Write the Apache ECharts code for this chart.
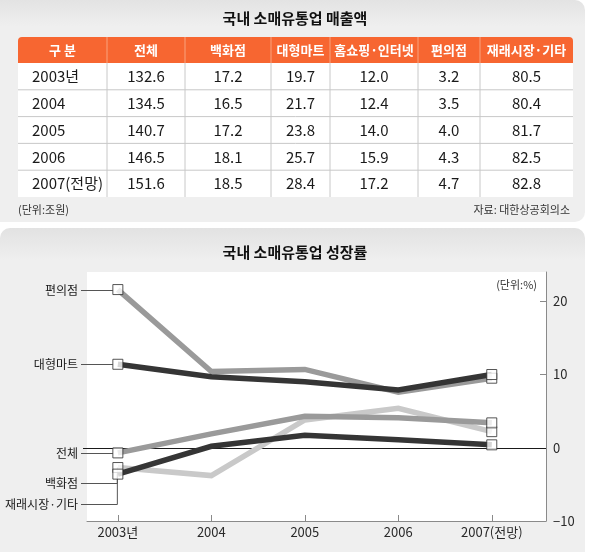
<!DOCTYPE html>
<html><head><meta charset="utf-8">
<script src="https://cdn.jsdelivr.net/npm/echarts@6/dist/echarts.min.js"></script>
<style>html,body{margin:0;padding:0;background:#fff}#c{width:590px;height:552px}</style>
</head><body><div id="c"></div>
<script>
// ---------- data ----------
const tableTitle = '국내 소매유통업 매출액';
const tableHead = ['구 분', '전체', '백화점', '대형마트', '홈쇼핑·인터넷', '편의점', '재래시장·기타'];
const tableYears = ['2003년', '2004', '2005', '2006', '2007(전망)'];
const salesTotal = [132.6, 134.5, 140.7, 146.5, 151.6];
const salesDept = [17.2, 16.5, 17.2, 18.1, 18.5];
const salesMart = [19.7, 21.7, 23.8, 25.7, 28.4];
const salesHome = [12.0, 12.4, 14.0, 15.9, 17.2];
const salesConv = [3.2, 3.5, 4.0, 4.3, 4.7];
const salesTrad = [80.5, 80.4, 81.7, 82.5, 82.8];
const tableUnit = '(단위:조원)';
const tableSource = '자료: 대한상공회의소';

const chartTitle = '국내 소매유통업 성장률';
const chartUnit = '(단위:%)';
const years = ['2003년', '2004', '2005', '2006', '2007(전망)'];
const yTicks = [-10, 0, 10, 20];
const growthConv = [21.6, 10.4, 10.7, 7.6, 9.5];   // 편의점
const growthMart = [11.4, 9.7, 9.0, 7.9, 10.0];    // 대형마트
const growthTotal = [-0.7, 1.9, 4.3, 4.1, 3.4];    // 전체
const growthDept = [-2.7, -3.8, 3.8, 5.4, 2.2];    // 백화점
const growthTrad = [-3.6, 0.2, 1.7, 1.1, 0.4];     // 재래시장·기타

// ---------- layout ----------
const FONT = '"Noto Sans CJK KR", "Noto Sans", sans-serif';
const colEdges = [18, 107, 185, 271, 330, 418, 480, 573];
const headTop = 37, headH = 26, rowH = 26.8;

const seriesDefs = [
  { name: '백화점', data: growthDept, color: '#c9c9c9', labelDy: 15, elbow: true },
  { name: '편의점', data: growthConv, color: '#9a9a9a', labelDy: 0 },
  { name: '전체', data: growthTotal, color: '#9a9a9a', labelDy: 0 },
  { name: '재래시장·기타', data: growthTrad, color: '#353535', labelDy: 30, elbow: true },
  { name: '대형마트', data: growthMart, color: '#353535', labelDy: 0 }
];

const chart = echarts.init(document.getElementById('c'), null, { renderer: 'canvas' });

function tableGraphics() {
  const g = [];
  g.push({ type: 'rect', z: -10, shape: { x: 0, y: 0, width: 585, height: 222, r: [0, 10, 10, 0] },
    style: { fill: new echarts.graphic.LinearGradient(0, 0, 0, 1, [{ offset: 0, color: '#e3e3e3' }, { offset: 0.12, color: '#efefef' }, { offset: 1, color: '#efefef' }]) } });
  g.push({ type: 'rect', z: -10, shape: { x: 0, y: 228, width: 585, height: 324, r: [10, 10, 0, 0] },
    style: { fill: new echarts.graphic.LinearGradient(0, 0, 0, 1, [{ offset: 0, color: '#e2e2e2' }, { offset: 0.1, color: '#efefef' }, { offset: 1, color: '#efefef' }]) } });
  g.push({ type: 'text', z: 1, style: { text: tableTitle, x: 295, y: 18, align: 'center', verticalAlign: 'middle',
    font: 'bold 15px ' + FONT, fill: '#111' } });
  const x0 = colEdges[0], x1 = colEdges[colEdges.length - 1];
  g.push({ type: 'rect', z: 0, shape: { x: x0, y: headTop, width: x1 - x0, height: headH, r: [4, 4, 0, 0] }, style: { fill: '#f76631' } });
  tableHead.forEach((h, i) => {
    g.push({ type: 'text', z: 2, style: { text: h, x: (colEdges[i] + colEdges[i + 1]) / 2, y: headTop + headH / 2,
      align: 'center', verticalAlign: 'middle', font: 'bold 13px ' + FONT, fill: '#fff' } });
    if (i > 0) g.push({ type: 'line', z: 2, shape: { x1: colEdges[i], y1: headTop, x2: colEdges[i], y2: headTop + headH }, style: { stroke: '#f9a27f', lineWidth: 1 } });
  });
  const bodyTop = headTop + headH;
  g.push({ type: 'rect', z: 0, shape: { x: x0, y: bodyTop, width: x1 - x0, height: rowH * tableYears.length }, style: { fill: '#fff' } });
  const cols = [salesTotal, salesDept, salesMart, salesHome, salesConv, salesTrad];
  tableYears.forEach((yr, r) => {
    const cy = bodyTop + rowH * r + rowH / 2;
    g.push({ type: 'text', z: 2, style: { text: yr, x: 32, y: cy, align: 'left', verticalAlign: 'middle', font: '15px ' + FONT, fill: '#1a1a1a' } });
    cols.forEach((arr, c) => {
      g.push({ type: 'text', z: 2, style: { text: arr[r].toFixed(1), x: (colEdges[c + 1] + colEdges[c + 2]) / 2, y: cy,
        align: 'center', verticalAlign: 'middle', font: '15px ' + FONT, fill: '#1a1a1a' } });
    });
    if (r > 0) g.push({ type: 'line', z: 1, shape: { x1: x0, y1: bodyTop + rowH * r, x2: x1, y2: bodyTop + rowH * r }, style: { stroke: '#c8c8c8', lineWidth: 1 } });
  });
  for (let i = 1; i < colEdges.length - 1; i++) {
    g.push({ type: 'line', z: 1, shape: { x1: colEdges[i], y1: bodyTop, x2: colEdges[i], y2: bodyTop + rowH * tableYears.length }, style: { stroke: '#c8c8c8', lineWidth: 1 } });
  }
  g.push({ type: 'text', z: 2, style: { text: tableUnit, x: 18, y: 210, align: 'left', verticalAlign: 'middle', font: '11px ' + FONT, fill: '#333' } });
  g.push({ type: 'text', z: 2, style: { text: tableSource, x: 570, y: 210, align: 'right', verticalAlign: 'middle', font: '11px ' + FONT, fill: '#333' } });
  g.push({ type: 'text', z: 2, style: { text: chartTitle, x: 295, y: 252, align: 'center', verticalAlign: 'middle', font: 'bold 15px ' + FONT, fill: '#111' } });
  g.push({ type: 'text', z: 2, style: { text: chartUnit, x: 537, y: 285, align: 'right', verticalAlign: 'middle', font: '11px ' + FONT, fill: '#333' } });
  return g;
}

const lastIdx = years.length - 1;
const series = seriesDefs.map(s => ({
  type: 'line', name: s.name, data: s.data.map((v, i) => [i, v]), showSymbol: false, silent: true,
  lineStyle: { width: 5.5, color: s.color, join: 'miter', cap: 'butt' }, z: 2, animation: false
}));
series.push({
  type: 'scatter', z: 5, silent: true, animation: false, symbol: 'rect', symbolSize: 10,
  itemStyle: { color: '#fff', borderColor: '#2a2a2a', borderWidth: 1 },
  data: seriesDefs.flatMap(s => [[0, s.data[0]], [lastIdx, s.data[lastIdx]]])
});

chart.setOption({
  animation: false,
  grid: { left: 87, right: 44, top: 272, bottom: 31, show: false },
  xAxis: {
    type: 'value', min: -0.33, max: 4.58,
    axisLine: { show: true, onZero: false, lineStyle: { color: '#8a8a8a', width: 1 } },
    axisTick: { show: true, inside: true, length: 6, customValues: years.map((_, i) => i), lineStyle: { color: '#8a8a8a' } },
    axisLabel: { customValues: years.map((_, i) => i), formatter: v => years[Math.round(v)], fontSize: 13, color: '#2a2a2a', margin: 5, fontFamily: FONT },
    splitLine: { show: false }
  },
  yAxis: {
    type: 'value', position: 'right', min: -10, max: 24,
    axisLine: { show: true, onZero: false, lineStyle: { color: '#8a8a8a', width: 1 } },
    axisTick: { show: true, inside: true, length: 6, customValues: yTicks, lineStyle: { color: '#8a8a8a' } },
    axisLabel: { customValues: yTicks, formatter: v => (v < 0 ? '−' + Math.abs(v) : String(v)), fontSize: 13, color: '#2a2a2a', margin: 7, fontFamily: FONT },
    splitLine: { show: false }
  },
  graphic: tableGraphics(),
  series: series
});

const P = (x, y) => chart.convertToPixel({ gridIndex: 0 }, [x, y]);
const g2 = [];
const plotL = P(-0.33, 0)[0], plotR = P(4.58, 0)[0];
const pTop = P(0, 24)[1], pBot = P(0, -10)[1];
g2.push({ type: 'rect', z: -5, shape: { x: plotL, y: pTop, width: plotR - plotL, height: pBot - pTop }, style: { fill: '#fff' } });
const zeroY = Math.round(P(0, 0)[1]) + 0.5;
g2.push({ type: 'line', z: 1, shape: { x1: 83, y1: zeroY, x2: plotR, y2: zeroY }, style: { stroke: '#1a1a1a', lineWidth: 1 } });
seriesDefs.forEach(s => {
  const p = P(0, s.data[0]);
  const ly = Math.round(p[1] + s.labelDy) + 0.5;
  if (s.elbow) {
    g2.push({ type: 'polyline', z: 1, shape: { points: [[81, ly], [p[0] - 0.5, ly], [p[0] - 0.5, p[1]]] }, style: { stroke: '#555', lineWidth: 1, fill: null } });
  } else {
    g2.push({ type: 'line', z: 1, shape: { x1: 81, y1: ly, x2: p[0] - 5, y2: ly }, style: { stroke: '#555', lineWidth: 1 } });
  }
  g2.push({ type: 'text', z: 2, style: { text: s.name, x: 78, y: ly, align: 'right', verticalAlign: 'middle', font: '12px ' + FONT, fill: '#1a1a1a' } });
});
chart.setOption({ graphic: tableGraphics().concat(g2) });
</script>
</body></html>
